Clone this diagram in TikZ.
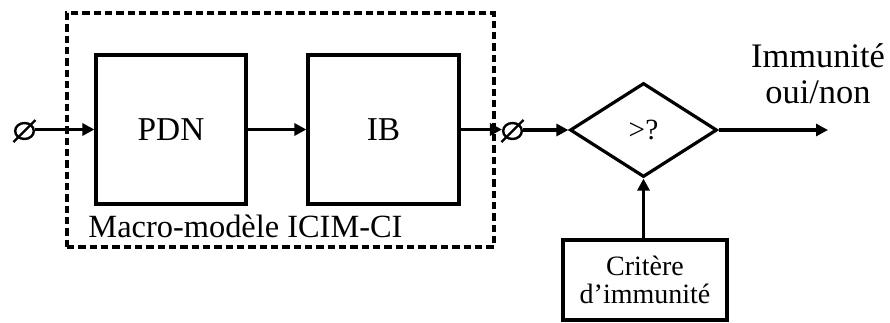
\documentclass[tikz,border=0pt]{standalone}
\usepackage{fontspec}
\setmainfont{Liberation Serif}
\usetikzlibrary{arrows.meta,shapes.geometric}
\begin{document}
\begin{tikzpicture}[x=0.75pt,y=-0.75pt,
  line width=2.4pt,
  blk/.style={draw,rectangle,minimum width=112.5pt,minimum height=111.75pt,inner sep=0pt,font=\fontsize{25}{30}\selectfont},
  arr/.style={-{Triangle[length=9pt,width=9pt]}},
  nul/.style={draw,ellipse,minimum width=14pt,minimum height=12pt,inner sep=0pt,line width=1.8pt},
  slash/.style={line width=1.8pt}
]
\useasboundingbox (0,0) rectangle (890,322);
% macro-model dashed frame
\node[draw,dash pattern=on 5.5pt off 3pt,rectangle,minimum width=320.25pt,minimum height=175.5pt,inner sep=0pt] (macro) at (280.5,130) {};
\node[anchor=base,font=\fontsize{24.3}{28}\selectfont,inner sep=0pt] (mlabel) at (245.5,237) {Macro-modèle ICIM-CI};
% blocks
\node[blk] (pdn) at (171,129.5) {PDN};
\node[blk,minimum width=113.25pt] (ib) at (383.5,129.5) {IB};
% null symbols
\node[nul] (n1) at (24.5,131) {};
\draw[slash] (n1.center) +(-11,11) -- +(11,-11);
\node[nul] (n2) at (512.5,131) {};
\draw[slash] (n2.center) +(-11,11) -- +(11,-11);
% decision
\node[draw,diamond,aspect=1.56,minimum width=110.25pt,minimum height=70.5pt,inner sep=0pt,font=\fontsize{22}{26}\selectfont] (dec) at (643.5,130) {>?};
% criterion
\node[draw,rectangle,minimum width=123pt,minimum height=60pt,inner sep=0pt,align=center,font=\fontsize{21}{20.5}\selectfont] (crit) at (645,280) {Critère\\d’immunité};
% result
\coordinate (out) at (828,130);
\node[align=center,font=\fontsize{25.8}{27}\selectfont,inner sep=0pt] (res) at (818,74) {Immunité\\oui/non};
% connectors
\draw[arr] (n1.east |- pdn.west) -- (pdn.west);
\draw[arr] (pdn) -- (ib);
\draw[arr] (ib.east) -- (n2.west |- ib.east);
\draw[arr] (n2.east |- dec.west) -- (dec.west);
\draw[arr] (dec.east) -- (out);
\draw[arr] (crit.north -| dec.south) -- (dec.south);
\end{tikzpicture}
\end{document}
